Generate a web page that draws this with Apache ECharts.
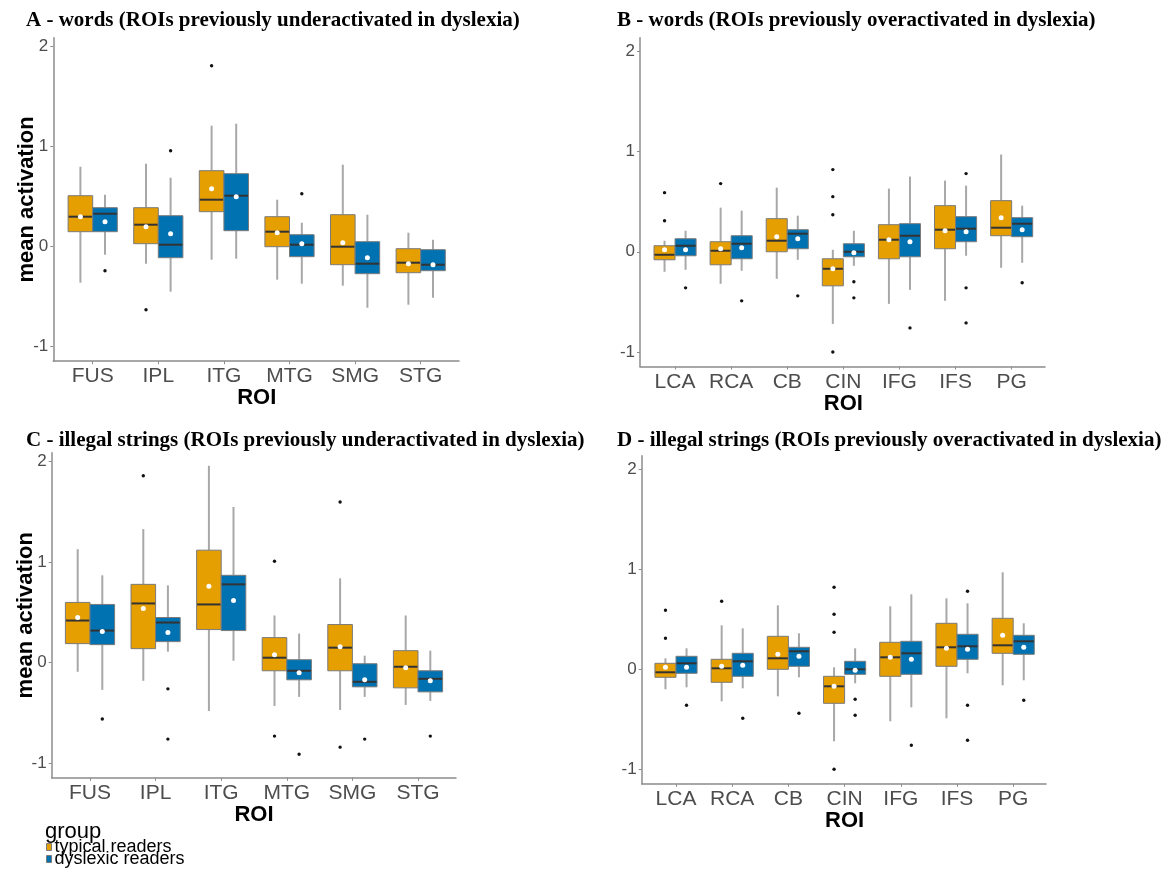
<!DOCTYPE html>
<html><head><meta charset="utf-8">
<script src="https://cdn.jsdelivr.net/npm/echarts@6/dist/echarts.min.js"></script>
<style>html,body{margin:0;padding:0;background:#fff}#c{width:1168px;height:871px}</style>
</head><body><div id="c"></div>
<script>
// ---------------- data ----------------
const catsUnder = ['FUS', 'IPL', 'ITG', 'MTG', 'SMG', 'STG'];
const catsOver = ['LCA', 'RCA', 'CB', 'CIN', 'IFG', 'IFS', 'PG'];
const yTicks = [-1, 0, 1, 2];
const groups = ['typical readers', 'dyslexic readers'];

// each box: [lower whisker, Q1, median, Q3, upper whisker, mean]
const aTypical = [
  [-0.36, 0.15, 0.30, 0.51, 0.80, 0.30],
  [-0.17, 0.03, 0.22, 0.39, 0.83, 0.20],
  [-0.13, 0.35, 0.47, 0.76, 1.21, 0.58],
  [-0.33, 0.00, 0.15, 0.30, 0.47, 0.14],
  [-0.39, -0.18, 0.00, 0.32, 0.82, 0.04],
  [-0.58, -0.26, -0.16, -0.02, 0.14, -0.17]
];
const aDyslexic = [
  [-0.08, 0.15, 0.33, 0.39, 0.52, 0.25],
  [-0.45, -0.11, 0.02, 0.31, 0.69, 0.13],
  [-0.12, 0.16, 0.51, 0.73, 1.23, 0.50],
  [-0.37, -0.10, 0.02, 0.12, 0.24, 0.03],
  [-0.61, -0.27, -0.17, 0.05, 0.32, -0.11],
  [-0.51, -0.24, -0.18, -0.03, 0.07, -0.18]
];
// outliers: [category index, value]
const aTypicalOut = [[1, -0.63], [2, 1.81]];
const aDyslexicOut = [[0, -0.24], [1, 0.96], [3, 0.53]];

const bTypical = [
  [-0.20, -0.08, -0.03, 0.06, 0.11, 0.02],
  [-0.32, -0.13, 0.01, 0.10, 0.44, 0.03],
  [-0.27, 0.00, 0.11, 0.33, 0.64, 0.15],
  [-0.72, -0.34, -0.17, -0.07, 0.02, -0.17],
  [-0.52, -0.07, 0.12, 0.27, 0.63, 0.12],
  [-0.49, 0.03, 0.22, 0.46, 0.71, 0.21],
  [-0.16, 0.16, 0.24, 0.51, 0.97, 0.34]
];
const bDyslexic = [
  [-0.18, -0.04, 0.06, 0.13, 0.21, 0.02],
  [-0.19, -0.07, 0.08, 0.16, 0.41, 0.04],
  [-0.08, 0.03, 0.18, 0.22, 0.36, 0.13],
  [-0.14, -0.05, 0.00, 0.08, 0.21, -0.01],
  [-0.38, -0.05, 0.16, 0.28, 0.75, 0.10],
  [-0.04, 0.10, 0.23, 0.35, 0.66, 0.20],
  [-0.11, 0.15, 0.28, 0.34, 0.46, 0.22]
];
const bTypicalOut = [[0, 0.59], [0, 0.31], [1, 0.68], [3, 0.82], [3, 0.55], [3, 0.37], [3, -1.00]];
const bDyslexicOut = [[0, -0.36], [1, -0.49], [2, -0.44], [3, -0.30], [3, -0.46], [4, -0.76], [5, 0.78], [5, -0.36], [5, -0.71], [6, -0.31]];

const cTypical = [
  [-0.09, 0.19, 0.42, 0.60, 1.13, 0.45],
  [-0.18, 0.14, 0.59, 0.78, 1.33, 0.54],
  [-0.48, 0.33, 0.58, 1.12, 1.96, 0.76],
  [-0.43, -0.08, 0.05, 0.25, 0.47, 0.08],
  [-0.47, -0.08, 0.15, 0.38, 0.84, 0.16],
  [-0.42, -0.25, -0.04, 0.12, 0.47, -0.05]
];
const cDyslexic = [
  [-0.27, 0.18, 0.32, 0.58, 0.87, 0.31],
  [0.11, 0.21, 0.40, 0.45, 0.77, 0.30],
  [0.02, 0.32, 0.78, 0.87, 1.55, 0.62],
  [-0.34, -0.17, -0.08, 0.03, 0.29, -0.10],
  [-0.34, -0.24, -0.19, -0.01, 0.07, -0.17],
  [-0.38, -0.29, -0.16, -0.08, 0.12, -0.18]
];
const cTypicalOut = [[1, 1.86], [3, 1.01], [3, -0.73], [4, 1.60], [4, -0.84]];
const cDyslexicOut = [[0, -0.56], [1, -0.26], [1, -0.76], [3, -0.91], [4, -0.76], [5, -0.73]];

// panel D in the reference shows the same values as panel B
const dTypical = [
  [-0.20, -0.08, -0.03, 0.06, 0.11, 0.02],
  [-0.32, -0.13, 0.01, 0.10, 0.44, 0.03],
  [-0.27, 0.00, 0.11, 0.33, 0.64, 0.15],
  [-0.72, -0.34, -0.17, -0.07, 0.02, -0.17],
  [-0.52, -0.07, 0.12, 0.27, 0.63, 0.12],
  [-0.49, 0.03, 0.22, 0.46, 0.71, 0.21],
  [-0.16, 0.16, 0.24, 0.51, 0.97, 0.34]
];
const dDyslexic = [
  [-0.18, -0.04, 0.06, 0.13, 0.21, 0.02],
  [-0.19, -0.07, 0.08, 0.16, 0.41, 0.04],
  [-0.08, 0.03, 0.18, 0.22, 0.36, 0.13],
  [-0.14, -0.05, 0.00, 0.08, 0.21, -0.01],
  [-0.38, -0.05, 0.16, 0.28, 0.75, 0.10],
  [-0.04, 0.10, 0.23, 0.35, 0.66, 0.20],
  [-0.11, 0.15, 0.28, 0.34, 0.46, 0.22]
];
const dTypicalOut = [[0, 0.59], [0, 0.31], [1, 0.68], [3, 0.82], [3, 0.55], [3, 0.37], [3, -1.00]];
const dDyslexicOut = [[0, -0.36], [1, -0.49], [2, -0.44], [3, -0.30], [3, -0.46], [4, -0.76], [5, 0.78], [5, -0.36], [5, -0.71], [6, -0.31]];

const titles = [
  'A - words (ROIs previously underactivated in dyslexia)',
  'B - words (ROIs previously overactivated in dyslexia)',
  'C - illegal strings (ROIs previously underactivated in dyslexia)',
  'D - illegal strings (ROIs previously overactivated in dyslexia)'
];

// ---------------- layout / style ----------------
const COLORS = ['#E69F00', '#0072B2'];
const SANS = '"Liberation Sans", Arial, sans-serif';
const SERIF = '"Liberation Serif", "Times New Roman", serif';
const YMIN = -1.145;

const panels = [
  { cats: catsUnder, boxes: [aTypical, aDyslexic], outs: [aTypicalOut, aDyslexicOut], yName: true,
    tx: 26, ty: 10, axisX: 53.3, right: 459, innerLeft: 59.9, unit: 65.6, top: 37.7, height: 323.5, ymax: 2.09 },
  { cats: catsOver, boxes: [bTypical, bDyslexic], outs: [bTypicalOut, bDyslexicOut], yName: false,
    tx: 617, ty: 10, axisX: 640, right: 1045, innerLeft: 647, unit: 56.1, top: 37.8, height: 328.7, ymax: 2.135 },
  { cats: catsUnder, boxes: [cTypical, cDyslexic], outs: [cTypicalOut, cDyslexicOut], yName: true,
    tx: 26, ty: 430, axisX: 51.7, right: 456, innerLeft: 57.2, unit: 65.6, top: 452.7, height: 325.1, ymax: 2.09 },
  { cats: catsOver, boxes: [dTypical, dDyslexic], outs: [dTypicalOut, dDyslexicOut], yName: false,
    tx: 617, ty: 430, axisX: 641.7, right: 1046, innerLeft: 647.9, unit: 56.2, top: 455.8, height: 328, ymax: 2.135 }
];

function boxRender(g) {
  return function (params, api) {
    const ci = api.value(0);
    const band = api.size([1, 0])[0];
    const w = band * 0.375;
    const cx = api.coord([ci, 0])[0] + (g === 0 ? -w / 2 : w / 2);
    const y = k => api.coord([ci, api.value(k)])[1];
    const lo = y(1), q1 = y(2), md = y(3), q3 = y(4), hi = y(5), mn = y(6);
    return {
      type: 'group', children: [
        { type: 'line', shape: { x1: cx, y1: hi, x2: cx, y2: q3 }, style: { stroke: '#a8a8a8', lineWidth: 2 } },
        { type: 'line', shape: { x1: cx, y1: q1, x2: cx, y2: lo }, style: { stroke: '#a8a8a8', lineWidth: 2 } },
        { type: 'rect', shape: { x: cx - w / 2, y: q3, width: w, height: q1 - q3 },
          style: { fill: COLORS[g], stroke: '#7a7a7a', lineWidth: 1 } },
        { type: 'line', shape: { x1: cx - w / 2 + 0.5, y1: md, x2: cx + w / 2 - 0.5, y2: md }, style: { stroke: '#333333', lineWidth: 2 } },
        { type: 'circle', shape: { cx: cx, cy: mn, r: 2.5 }, style: { fill: '#ffffff' } }
      ]
    };
  };
}
function outRender(g) {
  return function (params, api) {
    const ci = api.value(0);
    const band = api.size([1, 0])[0];
    const w = band * 0.375;
    const p = api.coord([ci, api.value(1)]);
    const cx = p[0] + (g === 0 ? -w / 2 : w / 2);
    return { type: 'circle', shape: { cx: cx, cy: p[1], r: 1.7 }, style: { fill: '#111111' } };
  };
}

const grid = [], xAxis = [], yAxis = [], series = [], title = [];
panels.forEach((p, i) => {
  const outer = i * 2, inner = i * 2 + 1;
  grid.push({ left: p.axisX, top: p.top, width: p.right - p.axisX, height: p.height, outerBoundsMode: 'none' });
  grid.push({ left: p.innerLeft, top: p.top, width: p.unit * p.cats.length, height: p.height, outerBoundsMode: 'none' });
  // outer: axis lines + y labels
  xAxis.push({ gridIndex: outer, type: 'value', min: 0, max: 1, position: 'bottom',
    axisLine: { show: true, onZero: false, lineStyle: { color: '#8c8c8c', width: 1.5 } },
    axisTick: { show: false }, axisLabel: { show: false }, splitLine: { show: false } });
  yAxis.push({ gridIndex: outer, type: 'value', min: YMIN, max: p.ymax, position: 'left',
    axisLine: { show: true, onZero: false, lineStyle: { color: '#8c8c8c', width: 1.5 } },
    axisTick: { show: true, length: 3, customValues: yTicks, lineStyle: { color: '#8c8c8c' } },
    axisLabel: { show: true, customValues: yTicks, fontSize: 17, color: '#4d4d4d', fontFamily: SANS, margin: 5 },
    splitLine: { show: false },
    name: p.yName ? 'mean activation' : '', nameLocation: 'middle', nameGap: 15, nameMoveOverlap: false,
    nameTextStyle: { fontSize: 22, fontWeight: 'bold', color: '#000', fontFamily: SANS } });
  // inner: categories
  xAxis.push({ gridIndex: inner, type: 'category', data: p.cats, boundaryGap: true, position: 'bottom',
    axisLine: { show: false, onZero: false },
    axisTick: { show: true, alignWithLabel: true, length: 3, lineStyle: { color: '#8c8c8c' } },
    axisLabel: { fontSize: 21, color: '#4d4d4d', fontFamily: SANS, margin: 5, interval: 0 },
    splitLine: { show: false },
    name: 'ROI', nameLocation: 'middle', nameGap: 26, nameMoveOverlap: false,
    nameTextStyle: { fontSize: 22, fontWeight: 'bold', color: '#000', fontFamily: SANS } });
  yAxis.push({ gridIndex: inner, type: 'value', min: YMIN, max: p.ymax, show: false });

  [0, 1].forEach(g => {
    series.push({
      type: 'custom', name: groups[g], xAxisIndex: inner, yAxisIndex: inner,
      itemStyle: { color: COLORS[g] },
      renderItem: boxRender(g), encode: { x: 0, y: [1, 2, 3, 4, 5] },
      data: p.boxes[g].map((b, ci) => [ci].concat(b)), silent: true, z: 2
    });
    series.push({
      type: 'custom', name: 'outliers ' + groups[g], xAxisIndex: inner, yAxisIndex: inner,
      renderItem: outRender(g), encode: { x: 0, y: 1 },
      data: p.outs[g], silent: true, z: 3
    });
  });
  title.push({ text: titles[i], left: p.tx, top: p.ty, padding: 0,
    textStyle: { fontFamily: SERIF, fontWeight: 'bold', fontSize: 21, color: '#000' } });
});
title.push({ text: 'group', left: 45, top: 821, padding: 0,
  textStyle: { fontFamily: SANS, fontWeight: 'normal', fontSize: 22, color: '#000' } });

const legendBase = {
  orient: 'vertical', left: 46, padding: 0,
  itemWidth: 5, itemHeight: 7, itemGap: 0, selectedMode: false,
  itemStyle: { borderColor: '#7a7a7a', borderWidth: 1 },
  textStyle: { fontFamily: SANS, fontSize: 18, lineHeight: 12, color: '#000', padding: [0, 0, 0, -2] }
};
const legend = groups.map((n, k) => Object.assign({}, legendBase, {
  data: [{ name: n, icon: 'rect' }], top: 838 + k * 12
}));

const chart = echarts.init(document.getElementById('c'), null, { renderer: 'canvas' });
chart.setOption({
  backgroundColor: '#ffffff',
  animation: false,
  title: title, legend: legend,
  grid: grid, xAxis: xAxis, yAxis: yAxis, series: series
});
</script></body></html>
